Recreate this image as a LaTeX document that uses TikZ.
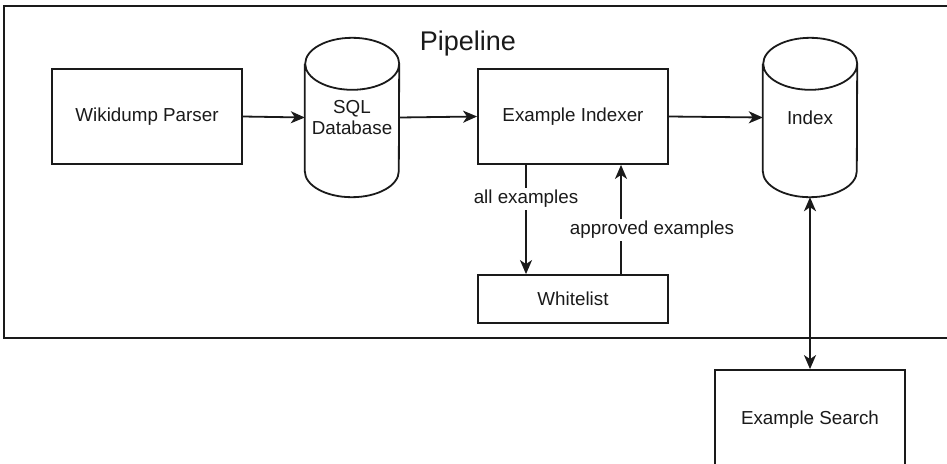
\documentclass[tikz,border=0pt]{standalone}
\usepackage{fontspec}
\setmainfont{Liberation Sans}
\usetikzlibrary{arrows.meta}

\definecolor{ink}{HTML}{1A1A1A}

\tikzset{
  line/.style={line width=1.8pt, draw=ink},
  tip/.tip={Stealth[length=14pt,width=12pt,inset=4pt]},
  box/.style={line, rectangle, minimum width=190pt, inner sep=0pt,
    text=ink, font=\fontsize{18.8}{22.5}\selectfont},
  dbbody/.style={rectangle, minimum width=94pt, minimum height=159pt, inner sep=0pt,
    align=center, text=ink, font=\fontsize{18.8}{22.5}\selectfont},
  flow/.style={line, -tip},
  both/.style={line, tip-tip},
  lbl/.style={fill=white, inner sep=2pt, text=ink, font=\fontsize{18.8}{22.5}\selectfont}
}

\begin{document}
\begin{tikzpicture}[x=1pt, y=-1pt]
  \useasboundingbox (0,0) rectangle (947,463);
  \clip (0,0) rectangle (947,463);
  \fill[white] (0,0) rectangle (947,463);

  % Pipeline frame (runs off to the right)
  \draw[line] (990,6) -- (4,6) -- (4,338) -- (990,338);
  \node[text=ink, font=\fontsize{27}{32}\selectfont] (title) at (468,44) {Pipeline};

  % Boxes
  \node[box, minimum height=95pt] (parser) at (147,116.5) {Wikidump Parser};
  \node[box, minimum height=95pt] (indexer) at (573,116.5) {Example Indexer};
  \node[box, minimum height=48pt] (whitelist) at (573,299) {Whitelist};
  \node[box, minimum height=96pt, text depth=0pt] (search) at (810,418) {Example Search};

  % Databases
  \node[dbbody] (sql) at (352,117.5) {SQL\\[-1pt]Database};
  \node[dbbody] (index) at (810,117.5) {Index};
  \foreach \db in {sql,index}{
    \draw[line]
      ([yshift=-26pt]\db.north west) -- ([yshift=26pt]\db.south west)
      arc[start angle=180, end angle=360, x radius=47pt, y radius=26pt]
      -- ([yshift=-26pt]\db.north east)
      arc[start angle=0, end angle=180, x radius=47pt, y radius=26pt]
      arc[start angle=180, end angle=360, x radius=47pt, y radius=26pt];
  }

  % Connectors
  \draw[flow] (parser.east) -- (sql.west);
  \draw[flow] (sql.east) -- (indexer.west);
  \draw[flow] (indexer.east) -- (index.west);

  \coordinate (allTop) at (indexer.south -| 526,0);
  \coordinate (allBot) at (whitelist.north -| 526,0);
  \draw[flow] (allTop) -- (allBot);
  \node[lbl] (allLbl) at (526,199) {all examples};

  \coordinate (apTop) at (indexer.south -| 621,0);
  \coordinate (apBot) at (whitelist.north -| 621,0);
  \draw[flow] (apBot) -- (apTop);
  \node[lbl] (apLbl) at (652,230) {approved examples};

  \draw[both] (index.south) -- (search.north);
\end{tikzpicture}
\end{document}
